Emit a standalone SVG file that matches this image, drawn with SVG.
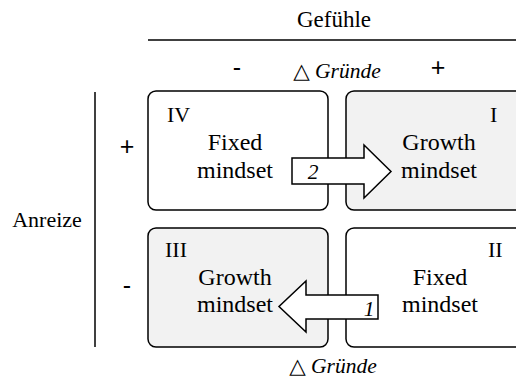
<svg xmlns="http://www.w3.org/2000/svg" width="516" height="378" viewBox="0 0 516 378">
<style>
.box{stroke:#000;stroke-width:1.5}
.w{fill:#fff}
.g{fill:#f2f2f2}
.t{font-family:'Liberation Serif','DejaVu Serif',serif;font-size:24px;fill:#000;text-anchor:middle}
.r{font-family:'Liberation Serif','DejaVu Serif',serif;font-size:22px;fill:#000}
.i{font-family:'Liberation Serif','DejaVu Serif',serif;font-style:italic;font-size:21.5px;fill:#000;text-anchor:middle}
.s{font-family:'Liberation Sans',Arial,sans-serif;font-size:25px;fill:#000;text-anchor:middle}
.arr{fill:#fff;stroke:#000;stroke-width:1.5;stroke-linejoin:miter}
.ln{stroke:#000;stroke-width:1.5;fill:none}
</style>
<rect width="516" height="378" fill="#fff"/>
<g id="axes">
<text class="r" x="334" y="27" text-anchor="middle" style="font-size:23px">Gefühle</text>
<line class="ln" x1="148" y1="40" x2="516" y2="40"/>
<text class="s" x="237" y="76">-</text>
<text class="i" x="337" y="78">△ Gründe</text>
<text class="s" x="438" y="76">+</text>
<text class="r" x="47" y="227" text-anchor="middle">Anreize</text>
<line class="ln" x1="95" y1="92" x2="95" y2="347"/>
<text class="s" x="127" y="155">+</text>
<text class="s" x="127" y="294">-</text>
<text class="i" x="333" y="373">△ Gründe</text>
</g>
<g id="q4">
<rect class="box w" x="148" y="91" width="180" height="119" rx="8"/>
<text class="r" x="167" y="122">IV</text>
<text class="t" x="235" y="150">Fixed</text>
<text class="t" x="235" y="178">mindset</text>
</g>
<g id="q1">
<rect class="box g" x="346" y="91" width="180" height="119" rx="8"/>
<text class="r" x="490" y="122">I</text>
<text class="t" x="439" y="150">Growth</text>
<text class="t" x="439" y="178">mindset</text>
</g>
<g id="q3">
<rect class="box g" x="148" y="228" width="180" height="119" rx="8"/>
<text class="r" x="165" y="257">III</text>
<text class="t" x="235" y="285">Growth</text>
<text class="t" x="235" y="312">mindset</text>
</g>
<g id="q2">
<rect class="box w" x="346" y="228" width="180" height="119" rx="8"/>
<text class="r" x="488" y="257">II</text>
<text class="t" x="440" y="285">Fixed</text>
<text class="t" x="440" y="312">mindset</text>
</g>
<g id="connectors">
<polygon class="arr" points="292,158 364,158 364,145 391,171.5 364,198 364,184 292,184"/>
<text class="i" x="313" y="179">2</text>
<polygon class="arr" points="378,295 306,295 306,281 279,306.5 306,332 306,319 378,319"/>
<text class="i" x="369" y="316">1</text>
</g>
</svg>
